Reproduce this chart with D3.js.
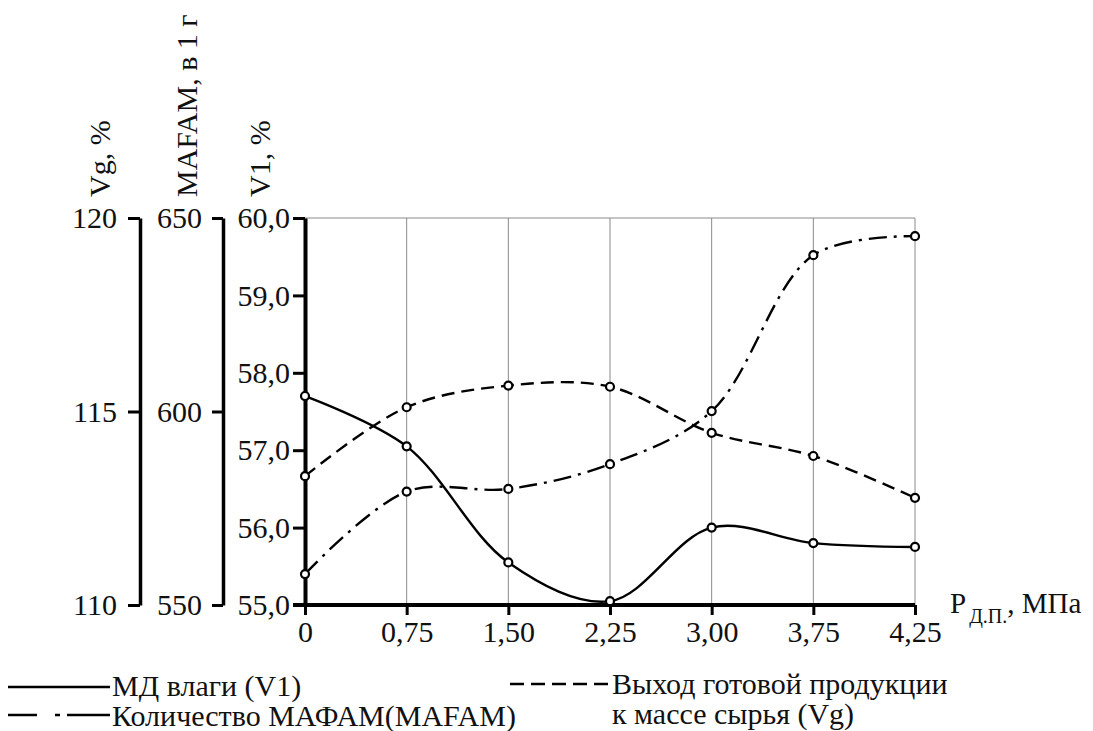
<!DOCTYPE html>
<html>
<head>
<meta charset="utf-8">
<script src="https://cdn.jsdelivr.net/npm/d3@7"></script>
<style>
  html, body { margin: 0; padding: 0; background: #fff; }
  svg text { font-family: "Liberation Serif", Tinos, "Times New Roman", serif; fill: #111; }
</style>
</head>
<body>
<svg id="chart" width="1093" height="731"></svg>
<script>
// Pressure steps (evenly spaced categories on the x axis)
const pressure = ["0", "0,75", "1,50", "2,25", "3,00", "3,75", "4,25"];
// Moisture mass fraction, V1, %
const v1 = [57.70, 57.05, 55.55, 55.05, 56.00, 55.80, 55.75];
// Finished product yield to raw mass, Vg, %
const vg = [113.33, 115.11, 115.67, 115.64, 114.45, 113.85, 112.77];
// MAFAM amount per 1 g
const mafam = [558.0, 579.3, 580.0, 586.4, 600.1, 640.4, 645.3];

const v1Ticks = [55, 56, 57, 58, 59, 60];
const mafamTicks = [550, 600, 650];
const vgTicks = [110, 115, 120];

const svg = d3.select("#chart");
const plotTop = 218, plotBottom = 605, plotLeft = 305, plotRight = 915;

const x = d3.scalePoint().domain(pressure).range([plotLeft, plotRight]).padding(0);
const yV1 = d3.scaleLinear().domain([55, 60]).range([plotBottom, plotTop]);
const yMafam = d3.scaleLinear().domain([550, 650]).range([plotBottom, plotTop]);
const yVg = d3.scaleLinear().domain([110, 120]).range([plotBottom, plotTop]);

const comma = (d, digits) => d.toFixed(digits).replace(".", ",");
const serif = "'Liberation Serif', Tinos, 'Times New Roman', serif";

// Grid: vertical lines at each pressure step and a top border
const grid = svg.append("g").attr("stroke", "#8a8a8a").attr("stroke-width", 1);
grid.selectAll("line.v").data(pressure.slice(1)).join("line")
  .attr("x1", d => x(d)).attr("x2", d => x(d))
  .attr("y1", plotTop).attr("y2", plotBottom);
grid.append("line").attr("x1", plotLeft).attr("x2", plotRight).attr("y1", plotTop).attr("y2", plotTop);

// Styling helper for the axes
function styleAxis(g, domainWidth) {
  g.attr("font-family", serif);
  g.select(".domain").attr("stroke", "#000").attr("stroke-width", domainWidth);
  g.selectAll(".tick line").attr("stroke", "#000").attr("stroke-width", 3);
  g.selectAll(".tick text").attr("font-size", 30).attr("fill", "#111");
}

// Vg axis
svg.append("g").attr("transform", `translate(140,0)`)
  .call(d3.axisLeft(yVg).tickValues(vgTicks).tickFormat(d => d3.format("d")(d))
    .tickSize(12).tickSizeOuter(0).tickPadding(11))
  .call(g => styleAxis(g, 3.5));

// MAFAM axis
svg.append("g").attr("transform", `translate(223,0)`)
  .call(d3.axisLeft(yMafam).tickValues(mafamTicks).tickFormat(d => d3.format("d")(d))
    .tickSize(11).tickSizeOuter(0).tickPadding(10))
  .call(g => styleAxis(g, 3.5));

// V1 axis
svg.append("g").attr("transform", `translate(${plotLeft},0)`)
  .call(d3.axisLeft(yV1).tickValues(v1Ticks).tickFormat(d => comma(d, 1))
    .tickSize(12).tickSizeOuter(0).tickPadding(3))
  .call(g => styleAxis(g, 4));

// Pressure axis
svg.append("g").attr("transform", `translate(0,${plotBottom})`)
  .call(d3.axisBottom(x).tickSize(10).tickSizeOuter(0).tickPadding(6))
  .call(g => styleAxis(g, 4))
  .call(g => g.select(".domain").attr("d", `M${plotLeft - 12},0H${plotRight}`));

// Axis titles (rotated)
const titles = [
  { text: "Vg, %", x: 110 },
  { text: "MAFAM, в 1 г", x: 197 },
  { text: "V1, %", x: 270 }
];
svg.selectAll("text.ytitle").data(titles).join("text")
  .attr("class", "ytitle")
  .attr("transform", d => `translate(${d.x},197) rotate(-90)`)
  .attr("font-size", 30)
  .text(d => d.text);

// Pressure axis title with subscript
const xt = svg.append("text").attr("x", 950).attr("y", 613).attr("font-size", 29);
xt.append("tspan").text("P");
xt.append("tspan").attr("dy", 10).attr("dx", 3).attr("font-size", 20).text("Д.П.");
xt.append("tspan").attr("dy", -10).text(", МПа");

// Series
const curve = d3.curveCatmullRom.alpha(0.5);
const series = [
  { name: "v1", values: v1, y: yV1, dash: null },
  { name: "vg", values: vg, y: yVg, dash: "13,7" },
  { name: "mafam", values: mafam, y: yMafam, dash: "18,7,3,7" }
];

series.forEach(s => {
  const line = d3.line().x((d, i) => x(pressure[i])).y(d => s.y(d)).curve(curve);
  svg.append("path")
    .attr("d", line(s.values))
    .attr("fill", "none")
    .attr("stroke", "#000")
    .attr("stroke-width", 2.4)
    .attr("stroke-dasharray", s.dash);
});

series.forEach(s => {
  svg.append("g").selectAll("circle").data(s.values).join("circle")
    .attr("cx", (d, i) => x(pressure[i]))
    .attr("cy", d => s.y(d))
    .attr("r", 4)
    .attr("fill", "#fff")
    .attr("stroke", "#000")
    .attr("stroke-width", 2.2);
});

// Legend
const legend = svg.append("g").attr("stroke", "#000").attr("stroke-width", 2.4);
legend.append("line").attr("x1", 8).attr("x2", 110).attr("y1", 687).attr("y2", 687);
legend.append("line").attr("x1", 8).attr("x2", 110).attr("y1", 715).attr("y2", 715)
  .attr("stroke-dasharray", "29,18,5,7,43");
legend.append("line").attr("x1", 510).attr("x2", 608).attr("y1", 684).attr("y2", 684)
  .attr("stroke-dasharray", "14,7");

const legendText = [
  { text: "МД влаги (V1)", x: 112, y: 696 },
  { text: "Количество МАФАМ(MAFAM)", x: 112, y: 726 },
  { text: "Выход готовой продукции", x: 612, y: 694 },
  { text: "к массе сырья (Vg)", x: 612, y: 724 }
];
svg.selectAll("text.legend").data(legendText).join("text")
  .attr("class", "legend")
  .attr("x", d => d.x).attr("y", d => d.y)
  .attr("font-size", 30)
  .text(d => d.text);
</script>
</body>
</html>
